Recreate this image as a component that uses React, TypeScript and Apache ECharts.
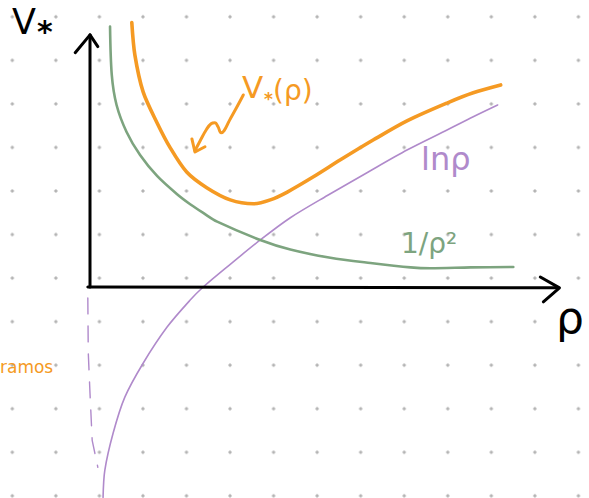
import React, { useEffect, useRef } from "react";
import * as echarts from "echarts";

const W = 589;
const H = 498;
// one plot unit = one spacing of the dotted paper
const UNIT = 43.55;
const ORIGIN_X = 90;
const ORIGIN_Y = 287;

// 1/ρ² (green)
const inverseSquare: number[][] = [
  [0.46, 5.98], [0.5, 4.87], [0.61, 4.18], [0.84, 3.56], [1.15, 3.03],
  [1.54, 2.55], [2.0, 2.13], [2.3, 1.9], [2.6, 1.7], [2.92, 1.5],
  [3.91, 1.08], [4.6, 0.86], [5.52, 0.67], [6.44, 0.55], [7.36, 0.45],
  [7.82, 0.43], [8.74, 0.45], [9.72, 0.46],
];

// V*(ρ) (orange)
const potential: number[][] = [
  [0.96, 6.07], [1.03, 5.33], [1.22, 4.48], [1.53, 3.79], [1.84, 3.2],
  [2.22, 2.64], [2.68, 2.28], [3.22, 2.0], [3.75, 1.91], [4.14, 2.0],
  [4.53, 2.18], [5.13, 2.53], [5.75, 2.92], [6.51, 3.38], [7.29, 3.82],
  [8.21, 4.23], [8.8, 4.46], [9.43, 4.64],
];

// ln ρ (purple)
const logRho: number[][] = [
  [0.3, -4.83], [0.34, -4.21], [0.53, -3.36], [0.8, -2.53], [1.22, -1.75],
  [1.77, -0.92], [2.3, -0.3], [2.6, 0.0], [3.22, 0.52], [3.91, 1.08],
  [4.6, 1.59], [5.45, 2.1], [6.37, 2.63], [7.29, 3.15], [8.21, 3.61],
  [8.8, 3.91], [9.36, 4.18],
];

// dashed asymptote of ln ρ near ρ = 0
const asymptote: number[][] = [
  [-0.05, -0.25], [-0.04, -1.5], [0.0, -2.44], [0.05, -3.52], [0.18, -4.14],
];

// axes and their open arrow heads
const xAxisLine: number[][] = [[-0.05, 0], [10.71, -0.02]];
const xArrowHead: number[][] = [[10.34, 0.23], [10.78, -0.02], [10.41, -0.34]];
const yAxisLine: number[][] = [[0, 0], [0, 5.79]];
const yArrowHead: number[][] = [[-0.34, 5.38], [0, 5.79], [0.18, 5.52]];

// squiggly pointer from the V*(ρ) label to its curve
const pointer: number[][] = [
  [3.52, 4.41], [3.36, 4.11], [3.2, 3.82], [3.08, 3.59], [3.01, 3.54],
  [2.94, 3.68], [2.87, 3.77], [2.78, 3.75], [2.67, 3.61], [2.53, 3.36],
  [2.41, 3.13],
];
const pointerHead: number[][] = [[2.34, 3.4], [2.41, 3.1], [2.64, 3.22]];

const ORANGE = "#F59A23";
const GREEN = "#7DA47F";
const PURPLE = "#B08ACB";
const INK = "#000000";
const FONT = '"DejaVu Sans", sans-serif';

function stroke(
  data: number[][],
  color: string,
  width: number,
  smooth: number | boolean = false,
  type: any = "solid"
) {
  return {
    type: "line",
    data,
    smooth,
    showSymbol: false,
    silent: true,
    clip: false,
    lineStyle: { color, width, type, cap: "round", join: "round" },
  };
}

function label(text: string, x: number, y: number, size: number, color: string, weight = "normal") {
  return {
    type: "text",
    x,
    y,
    silent: true,
    style: {
      text,
      fill: color,
      fontSize: size,
      fontFamily: FONT,
      fontWeight: weight,
      align: "left",
      verticalAlign: "middle",
    },
  };
}

export default function App() {
  const ref = useRef<HTMLDivElement>(null);

  useEffect(() => {
    if (!ref.current) return;
    const chart = echarts.init(ref.current, undefined, { renderer: "svg" });
    chart.setOption({
      animation: false,
      grid: { left: 0, right: 0, top: 0, bottom: 0 },
      xAxis: {
        type: "value",
        min: -ORIGIN_X / UNIT,
        max: (W - ORIGIN_X) / UNIT,
        show: false,
      },
      yAxis: {
        type: "value",
        min: -(H - ORIGIN_Y) / UNIT,
        max: ORIGIN_Y / UNIT,
        show: false,
      },
      series: [
        stroke(asymptote, PURPLE, 1.4, false, [16, 12]),
        stroke(logRho, PURPLE, 1.6, 0.3),
        stroke(inverseSquare, GREEN, 2.6, 0.3),
        stroke(potential, ORANGE, 3.6, 0.3),
        stroke(xAxisLine, INK, 3),
        stroke(xArrowHead, INK, 3),
        stroke(yAxisLine, INK, 3),
        stroke(yArrowHead, INK, 3),
        stroke(pointer, ORANGE, 3, 0.4),
        stroke(pointerHead, ORANGE, 3),
      ],
      graphic: [
        label("V", 12, 22, 35, INK),
        label("*", 37, 31, 30, INK, "bold"),
        label("V", 242, 87, 31, ORANGE),
        label("*", 264, 99, 17, ORANGE, "bold"),
        label("(ρ)", 273, 90, 28, ORANGE),
        label("lnρ", 421, 159, 32, PURPLE),
        label("1/ρ²", 401, 243, 28, GREEN),
        label("ρ", 556, 317, 44, INK),
        label("ramos", 0, 367, 17, ORANGE),
      ],
    });
    return () => chart.dispose();
  }, []);

  return (
    <div
      ref={ref}
      style={{
        position: "fixed",
        left: 0,
        top: 0,
        width: W,
        height: H,
        backgroundColor: "#ffffff",
        backgroundImage: "radial-gradient(circle, #b3b3b3 1.3px, transparent 1.9px)",
        backgroundSize: `${UNIT}px ${UNIT}px`,
        backgroundPosition: `${12.3 - UNIT / 2}px ${16.8 - UNIT / 2}px`,
      }}
    />
  );
}
